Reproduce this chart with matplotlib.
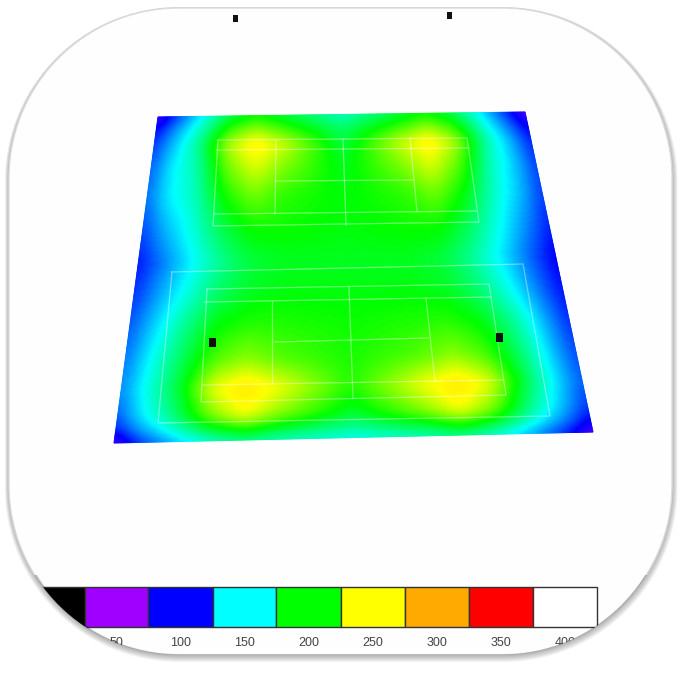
import matplotlib
matplotlib.use('Agg')
import matplotlib.pyplot as plt
import numpy as np
from matplotlib.colors import LinearSegmentedColormap
from matplotlib.patches import PathPatch, Rectangle
from matplotlib.path import Path

# illuminance scale
scale_values = [0, 50, 100, 150, 200, 250, 300, 350, 400]
scale_colors = ['#000000', '#a000ff', '#0000ff', '#00ffff', '#00ff00',
                '#ffff00', '#ffaa00', '#ff0000', '#ffffff']
tick_labels = ['50', '100', '150', '200', '250', '300', '350', '400']

# field, positions are fractions of the floor
u_pos = [0, .05, .12, .2, .27, .35, .5, .65, .73, .8, .88, .95, 1]
v_pos = [0, .04, .09, .16, .25, .35, .45, .55, .65, .75, .84, .92, .97, 1]
lux = [
    [ 80, 112, 148, 186, 200, 186, 162, 186, 200, 184, 146, 108,  76],
    [100, 128, 162, 210, 228, 210, 178, 210, 228, 208, 158, 122,  95],
    [112, 138, 172, 236, 258, 238, 188, 238, 258, 232, 168, 134, 106],
    [120, 146, 166, 222, 244, 224, 194, 224, 244, 218, 164, 138, 112],
    [122, 146, 162, 204, 222, 208, 198, 208, 222, 200, 160, 136, 112],
    [114, 134, 155, 186, 202, 202, 198, 202, 202, 184, 152, 126, 106],
    [104, 122, 146, 172, 188, 194, 194, 194, 188, 170, 143, 116,  98],
    [110, 130, 155, 182, 194, 198, 198, 198, 194, 180, 152, 122, 102],
    [118, 140, 170, 200, 208, 206, 202, 206, 208, 198, 168, 132, 108],
    [124, 148, 180, 216, 228, 216, 204, 216, 228, 214, 178, 138, 114],
    [128, 152, 186, 246, 262, 246, 206, 246, 262, 244, 184, 142, 118],
    [118, 146, 176, 226, 250, 226, 192, 226, 250, 224, 172, 136, 110],
    [102, 128, 156, 188, 204, 188, 170, 188, 204, 186, 152, 122,  96],
    [ 78, 110, 136, 160, 172, 164, 154, 164, 172, 158, 132, 104,  76],
]

# floor corners in the picture
floor_tl = (158, 117)
floor_tr = (525, 112)
floor_br = (593, 432)
floor_bl = (114, 443)

# court lines
top_court = [
    [(218, 140), (467, 138), (479, 222), (213, 226), (218, 140)],
    [(217, 150), (469, 148)],
    [(214, 214), (476, 211)],
    [(276, 140), (275, 214)],
    [(410, 138), (417, 211)],
    [(343, 139), (346, 225)],
    [(276, 181), (413, 180)],
]
bottom_court = [
    [(207, 289), (489, 284), (506, 395), (201, 402), (207, 289)],
    [(205, 302), (491, 297)],
    [(202, 385), (503, 380)],
    [(272, 301), (272, 383)],
    [(426, 298), (435, 382)],
    [(349, 287), (353, 398)],
    [(275, 342), (428, 338)],
]
surround = [[(172, 272), (523, 264), (550, 416), (158, 423), (172, 272)]]

# poles, x y w h
poles = [(212, 342, 7, 9), (499, 337, 7, 9), (235, 18, 5, 7), (449, 15, 5, 7)]

legend_edges = [21, 85, 148, 213, 276, 341, 405, 469, 533, 597]
legend_fill = ['#000000', '#a000ff', '#0000ff', '#00ffff', '#00ff00',
               '#ffff00', '#ffaa00', '#ff0000', '#ffffff']


def rounded_box(x0, y0, x1, y1, r):
    k = r * 0.4477
    verts = [(x0 + r, y0), (x1 - r, y0),
             (x1 - k, y0), (x1, y0 + k), (x1, y0 + r),
             (x1, y1 - r),
             (x1, y1 - k), (x1 - k, y1), (x1 - r, y1),
             (x0 + r, y1),
             (x0 + k, y1), (x0, y1 - k), (x0, y1 - r),
             (x0, y0 + r),
             (x0, y0 + k), (x0 + k, y0), (x0 + r, y0),
             (x0 + r, y0)]
    codes = [Path.MOVETO, Path.LINETO,
             Path.CURVE4, Path.CURVE4, Path.CURVE4,
             Path.LINETO,
             Path.CURVE4, Path.CURVE4, Path.CURVE4,
             Path.LINETO,
             Path.CURVE4, Path.CURVE4, Path.CURVE4,
             Path.LINETO,
             Path.CURVE4, Path.CURVE4, Path.CURVE4,
             Path.CLOSEPOLY]
    return Path(verts, codes)


def add_shadow(zorder, clip=None):
    for i in range(10):
        off = 10 - i
        p = PathPatch(rounded_box(9, 8 + off * 0.3, 672 + off * 0.15, 655 + off * 0.3, 170),
                      fc='none', ec='black', lw=off * 0.6, alpha=0.03, zorder=zorder)
        ax.add_patch(p)
        if clip is not None:
            p.set_clip_path(clip)


fig = plt.figure(figsize=(6.97, 6.80), dpi=100)
ax = fig.add_axes([0, 0, 1, 1])
ax.set_xlim(0, 697)
ax.set_ylim(680, 0)
ax.axis('off')

box = rounded_box(9, 8, 672, 655, 170)
add_shadow(1)
ax.add_patch(PathPatch(box, fc='#fefefe', ec='#dcdcdc', lw=1.0, zorder=2))

# resample the field on a fine grid
cmap = LinearSegmentedColormap.from_list(
    'lux', [(v / 400, c) for v, c in zip(scale_values, scale_colors)])
u = np.linspace(0, 1, 240)
v = np.linspace(0, 1, 240)
Z = np.array([np.interp(u, u_pos, row) for row in lux])
Z = np.array([np.interp(v, v_pos, Z[:, j]) for j in range(Z.shape[1])]).T
kernel = np.ones(11) / 11
pad = np.pad(Z, 5, mode='edge')
pad = np.apply_along_axis(lambda a: np.convolve(a, kernel, mode='same'), 0, pad)
pad = np.apply_along_axis(lambda a: np.convolve(a, kernel, mode='same'), 1, pad)
Z = pad[5:-5, 5:-5]

U, V = np.meshgrid(u, v)
X = (1 - U) * (1 - V) * floor_tl[0] + U * (1 - V) * floor_tr[0] + U * V * floor_br[0] + (1 - U) * V * floor_bl[0]
Y = (1 - U) * (1 - V) * floor_tl[1] + U * (1 - V) * floor_tr[1] + U * V * floor_br[1] + (1 - U) * V * floor_bl[1]
ax.pcolormesh(X, Y, Z, cmap=cmap, vmin=0, vmax=400, shading='gouraud', zorder=3)

for line in top_court + bottom_court + surround:
    xs = [p[0] for p in line]
    ys = [p[1] for p in line]
    ax.plot(xs, ys, color='white', lw=0.9, alpha=0.4, zorder=4)

for x, y, w, h in poles:
    ax.add_patch(Rectangle((x - w / 2, y - h / 2), w, h, fc='#101010', ec='none', zorder=5))

# legend strip
for i, c in enumerate(legend_fill):
    ax.add_patch(Rectangle((legend_edges[i], 587), legend_edges[i + 1] - legend_edges[i], 40,
                           fc=c, ec='#333333', lw=1, zorder=5))

for i, lab in enumerate(tick_labels):
    ax.text((legend_edges[i + 1] + legend_edges[i + 2]) / 2, 643, lab, ha='center', va='center',
            fontsize=9, color='#444444', family='Liberation Sans', zorder=5)

# text ignores clip paths in agg, so cover the legend parts outside the frame with white
band = Rectangle((0, 575), 697, 105, transform=ax.transData)
outer = Path([(0, 0), (0, 680), (697, 680), (697, 0), (0, 0)],
             [Path.MOVETO, Path.LINETO, Path.LINETO, Path.LINETO, Path.CLOSEPOLY])
cover = PathPatch(Path.make_compound_path(outer, box), fc='white', ec='none', zorder=6)
ax.add_patch(cover)
cover.set_clip_path(band)
add_shadow(7, band)

fig.savefig('out.png', dpi=100)
